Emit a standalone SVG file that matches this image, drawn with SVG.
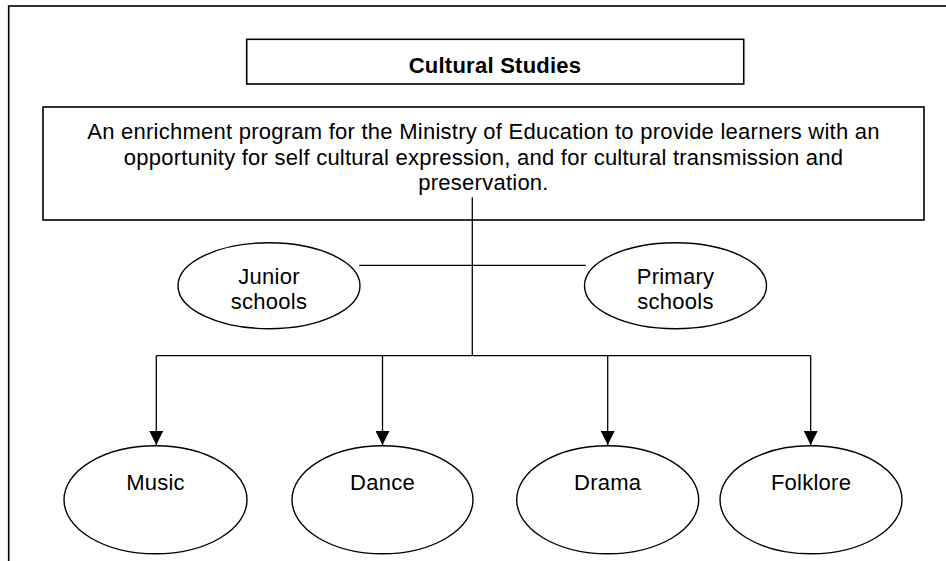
<svg xmlns="http://www.w3.org/2000/svg" width="946" height="561" viewBox="0 0 946 561">
<style>
.box{fill:#fff;stroke:#000;stroke-width:1.6}
.ell{fill:#fff;stroke:#000;stroke-width:1.4}
.ln{fill:none;stroke:#000;stroke-width:1.3}
text{font-family:"Liberation Sans",Arial,sans-serif;font-size:22px;letter-spacing:0.25px;fill:#000;text-anchor:middle}
.b{font-weight:bold}
</style>
<defs>
<marker id="arr" markerWidth="14" markerHeight="14" refX="14" refY="7" orient="auto" markerUnits="userSpaceOnUse">
<path d="M0,0 L14,7 L0,14 Z" fill="#000"/>
</marker>
</defs>
<rect x="8.7" y="6" width="950" height="570" fill="none" stroke="#000" stroke-width="1.6"/>
<g id="connectors">
<line class="ln" x1="472.3" y1="197.3" x2="472.3" y2="355.7"/>
<line class="ln" x1="359.3" y1="265.3" x2="585.7" y2="265.3"/>
<line class="ln" x1="156.3" y1="355.7" x2="810.7" y2="355.7"/>
<line class="ln" x1="156.3" y1="355.7" x2="156.3" y2="445" marker-end="url(#arr)"/>
<line class="ln" x1="382.5" y1="355.7" x2="382.5" y2="445" marker-end="url(#arr)"/>
<line class="ln" x1="607.7" y1="355.7" x2="607.7" y2="445" marker-end="url(#arr)"/>
<line class="ln" x1="810.7" y1="355.7" x2="810.7" y2="445" marker-end="url(#arr)"/>
</g>
<g id="title">
<rect class="box" x="246.7" y="39.3" width="497" height="44.7"/>
<text class="b" x="495" y="72.7">Cultural Studies</text>
</g>
<g id="description">
<rect class="box" x="43" y="107" width="881" height="113"/>
<text x="483.5" y="138.7">An enrichment program for the Ministry of Education to provide learners with an</text>
<text x="483.5" y="164.5">opportunity for self cultural expression, and for cultural transmission and</text>
<text x="483.5" y="190.3">preservation.</text>
</g>
<line class="ln" x1="472.3" y1="197.3" x2="472.3" y2="220"/>
<g id="junior">
<ellipse class="ell" cx="269" cy="285.7" rx="91" ry="43"/>
<text x="269" y="284.3">Junior</text>
<text x="269" y="309">schools</text>
</g>
<g id="primary">
<ellipse class="ell" cx="675.5" cy="285.7" rx="91" ry="43"/>
<text x="675.5" y="284.3">Primary</text>
<text x="675.5" y="309">schools</text>
</g>
<g id="music">
<ellipse class="ell" cx="155.5" cy="499.8" rx="91.5" ry="54"/>
<text x="155.5" y="490.3">Music</text>
</g>
<g id="dance">
<ellipse class="ell" cx="382.5" cy="499.8" rx="90.5" ry="54"/>
<text x="382.5" y="490.3">Dance</text>
</g>
<g id="drama">
<ellipse class="ell" cx="607.7" cy="499.8" rx="91" ry="54"/>
<text x="607.7" y="490.3">Drama</text>
</g>
<g id="folklore">
<ellipse class="ell" cx="811" cy="499.8" rx="91" ry="54"/>
<text x="811" y="490.3">Folklore</text>
</g>
</svg>
